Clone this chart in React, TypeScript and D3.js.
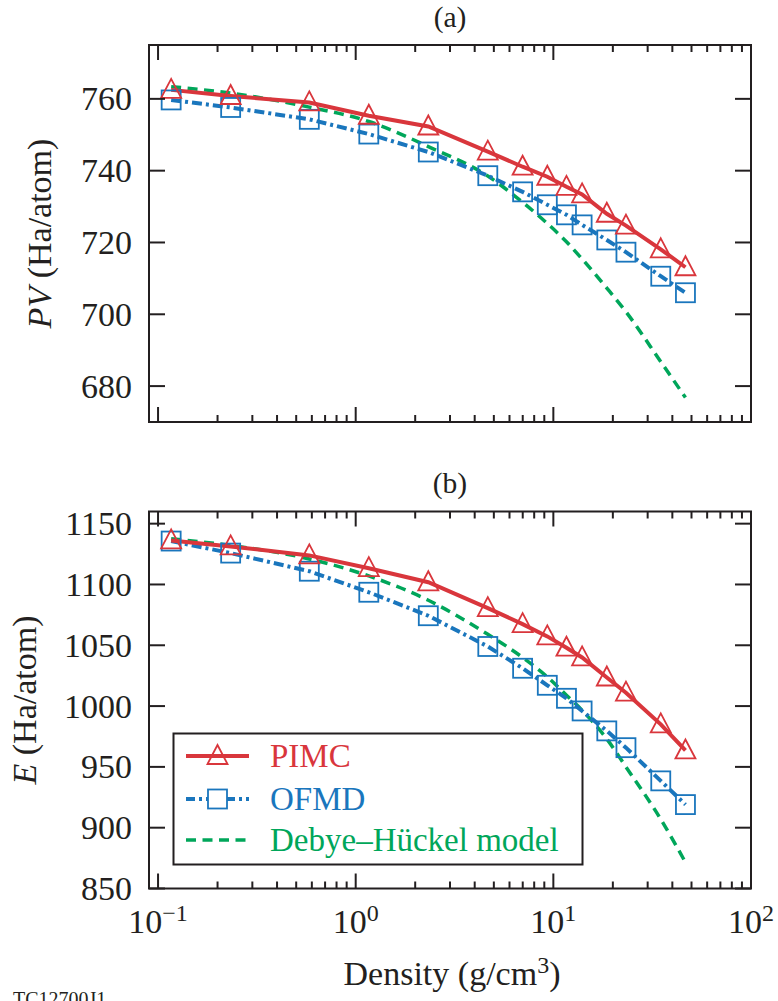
import React from "react";
import * as d3 from "d3";

// ---------- data ----------
const densities = [0.1165, 0.233, 0.5825, 1.165, 2.33, 4.66, 6.99, 9.32, 11.65, 13.98, 18.64, 23.3, 34.95, 46.6];

const pvPIMC = [762.5, 760.8, 759.0, 755.3, 752.3, 745.3, 741.1, 738.3, 735.5, 733.4, 728.0, 724.7, 718.1, 713.1];
const pvOFMD = [759.7, 757.6, 754.3, 750.2, 745.2, 738.6, 734.1, 730.5, 727.7, 724.9, 720.7, 717.3, 710.6, 706.0];
const pvDH = [763.4, 761.6, 757.7, 753.7, 746.7, 738.5, 731.2, 725.3, 720.2, 715.4, 707.3, 700.7, 686.8, 676.8];

const ePIMC = [1136.2, 1131.3, 1123.9, 1113.4, 1101.8, 1080.6, 1067.4, 1057.3, 1048.0, 1040.0, 1023.5, 1011.0, 985.0, 963.5];
const eOFMD = [1135.7, 1125.8, 1110.9, 1093.6, 1074.3, 1049.0, 1031.1, 1017.1, 1006.4, 996.0, 979.6, 965.8, 938.5, 919.0];
const eDH = [1137.6, 1132.1, 1121.0, 1107.0, 1087.0, 1059.0, 1040.0, 1024.0, 1009.0, 996.5, 973.0, 950.0, 907.0, 871.5];

const xMajorTicks = [0.1, 1, 10, 100];
const xTickExponents = ["\u22121", "0", "1", "2"];
const pvTicks = [680, 700, 720, 740, 760];
const eTicks = [850, 900, 950, 1000, 1050, 1100, 1150];

const seriesNames = ["PIMC", "OFMD", "Debye\u2013H\u00fcckel model"];

// ---------- styling ----------
const W = 778;
const H = 1001;
const FONT = "'Liberation Serif', 'Times New Roman', Times, serif";
const INK = "#231f20";
const RED = "#d9363c";
const BLUE = "#1a76bd";
const GREEN = "#00a65a";
const LEFT = 149;
const RIGHT = 751;

const xScale = d3.scaleLog().domain([0.09, 100]).range([LEFT, RIGHT]);
const xMinorTicks: number[] = [];
[0.1, 1, 10].forEach((d) => {
  for (let k = 2; k <= 9; k++) xMinorTicks.push(d * k);
});

function Triangle({ x, y }: { x: number; y: number }) {
  const p = `M${x},${y - 11} L${x + 10},${y + 8} L${x - 10},${y + 8} Z`;
  return <path d={p} fill="none" stroke={RED} strokeWidth={1.8} strokeLinejoin="miter" />;
}
function Square({ x, y }: { x: number; y: number }) {
  return <rect x={x - 9.5} y={y - 9.5} width={19} height={19} fill="none" stroke={BLUE} strokeWidth={1.8} />;
}

function Panel(props: {
  y0: number;
  y1: number;
  domain: [number, number];
  ticks: number[];
  pimc: number[];
  ofmd: number[];
  dh: number[];
  title: string;
  yLabel: React.ReactNode;
  yLabelX: number;
}) {
  const { y0, y1, domain, ticks, pimc, ofmd, dh, title, yLabel, yLabelX } = props;
  const y = d3.scaleLinear().domain(domain).range([y1, y0]);
  const linear = d3
    .line<number>()
    .x((_, i) => xScale(densities[i]))
    .y((v) => y(v));
  const smooth = d3
    .line<number>()
    .x((_, i) => xScale(densities[i]))
    .y((v) => y(v))
    .curve(d3.curveMonotoneX);
  const MAJ = 15;
  const MIN = 7;
  const YT = 16;
  return (
    <g>
      <text x={(LEFT + RIGHT) / 2} y={y0 - 18.3} textAnchor="middle" fontSize={29.5} fill={INK}>
        {title}
      </text>
      {/* data */}
      <path d={smooth(dh) || ""} fill="none" stroke={GREEN} strokeWidth={3.5} strokeDasharray="10,6.5" />
      <path d={linear(ofmd) || ""} fill="none" stroke={BLUE} strokeWidth={4} strokeDasharray="10,4,3,4" />
      <path d={linear(pimc) || ""} fill="none" stroke={RED} strokeWidth={4} />
      {ofmd.map((v, i) => (
        <Square key={"s" + i} x={xScale(densities[i])} y={y(v)} />
      ))}
      {pimc.map((v, i) => (
        <Triangle key={"t" + i} x={xScale(densities[i])} y={y(v)} />
      ))}
      {/* frame */}
      <rect x={LEFT} y={y0} width={RIGHT - LEFT} height={y1 - y0} fill="none" stroke={INK} strokeWidth={2} />
      {xMajorTicks.map((t) => (
        <g key={"M" + t}>
          <line x1={xScale(t)} x2={xScale(t)} y1={y1} y2={y1 - MAJ} stroke={INK} strokeWidth={2} />
          <line x1={xScale(t)} x2={xScale(t)} y1={y0} y2={y0 + MAJ} stroke={INK} strokeWidth={2} />
        </g>
      ))}
      {xMinorTicks.map((t) => (
        <g key={"m" + t}>
          <line x1={xScale(t)} x2={xScale(t)} y1={y1} y2={y1 - MIN} stroke={INK} strokeWidth={2} />
          <line x1={xScale(t)} x2={xScale(t)} y1={y0} y2={y0 + MIN} stroke={INK} strokeWidth={2} />
        </g>
      ))}
      {ticks.map((t) => (
        <g key={"y" + t}>
          <line x1={LEFT} x2={LEFT + YT} y1={y(t)} y2={y(t)} stroke={INK} strokeWidth={2} />
          <line x1={RIGHT} x2={RIGHT - YT} y1={y(t)} y2={y(t)} stroke={INK} strokeWidth={2} />
          <text x={132} y={y(t)} dy="0.34em" textAnchor="end" fontSize={34} fill={INK}>
            {t}
          </text>
        </g>
      ))}
      <text
        transform={`translate(${yLabelX},${(y0 + y1) / 2}) rotate(-90)`}
        textAnchor="middle"
        fontSize={34}
        fill={INK}
      >
        {yLabel}
      </text>
    </g>
  );
}

export default function App() {
  const legendRows = [
    { name: seriesNames[0], color: RED, dash: undefined as string | undefined, marker: "tri" },
    { name: seriesNames[1], color: BLUE, dash: "9,4,3,4", marker: "sq" },
    { name: seriesNames[2], color: GREEN, dash: "10,6.5", marker: "" },
  ];
  const legendY = [756, 799, 840];
  return (
    <svg
      width={W}
      height={H}
      viewBox={`0 0 ${W} ${H}`}
      style={{ position: "absolute", left: 0, top: 0, background: "#fff" }}
      fontFamily={FONT}
    >
      <rect x={0} y={0} width={W} height={H} fill="#fff" />
      <Panel
        y0={45}
        y1={422}
        domain={[670, 775]}
        ticks={pvTicks}
        pimc={pvPIMC}
        ofmd={pvOFMD}
        dh={pvDH}
        title="(a)"
        yLabelX={50.5}
        yLabel={
          <>
            <tspan fontStyle="italic">PV</tspan>
            <tspan> (Ha/atom)</tspan>
          </>
        }
      />
      <Panel
        y0={511.5}
        y1={888.5}
        domain={[850, 1160]}
        ticks={eTicks}
        pimc={ePIMC}
        ofmd={eOFMD}
        dh={eDH}
        title="(b)"
        yLabelX={35.5}
        yLabel={
          <>
            <tspan fontStyle="italic">E</tspan>
            <tspan> (Ha/atom)</tspan>
          </>
        }
      />
      {/* x tick labels */}
      {xMajorTicks.map((t, i) => (
        <text key={"xl" + t} x={xScale(t)} y={933} textAnchor="middle" fontSize={34} fill={INK}>
          <tspan>10</tspan>
          <tspan fontSize={24} dy={-12}>
            {xTickExponents[i]}
          </tspan>
        </text>
      ))}
      <text x={452} y={985} textAnchor="middle" fontSize={34} fill={INK}>
        <tspan>Density (g/cm</tspan>
        <tspan fontSize={24} dy={-12}>3</tspan>
        <tspan dy={12}>)</tspan>
      </text>
      {/* legend */}
      <rect x={173.5} y={733.5} width={409} height={131} fill="#fff" stroke={INK} strokeWidth={2} />
      {legendRows.map((r, i) => {
        const ly = legendY[i];
        return (
          <g key={"lg" + i}>
            <line
              x1={186}
              x2={249}
              y1={ly}
              y2={ly}
              stroke={r.color}
              strokeWidth={i === 2 ? 3.5 : 4}
              strokeDasharray={r.dash}
            />
            {r.marker === "tri" && <Triangle x={217.5} y={ly} />}
            {r.marker === "sq" && (
              <rect x={208} y={ly - 9.5} width={19} height={19} fill="#fff" stroke={BLUE} strokeWidth={1.8} />
            )}
            <text x={270} y={ly + 11} fontSize={33} fill={r.color}>
              {r.name}
            </text>
          </g>
        );
      })}
      <text x={13} y={1006} fontSize={20} fill={INK}>
        TC12700J1
      </text>
    </svg>
  );
}
